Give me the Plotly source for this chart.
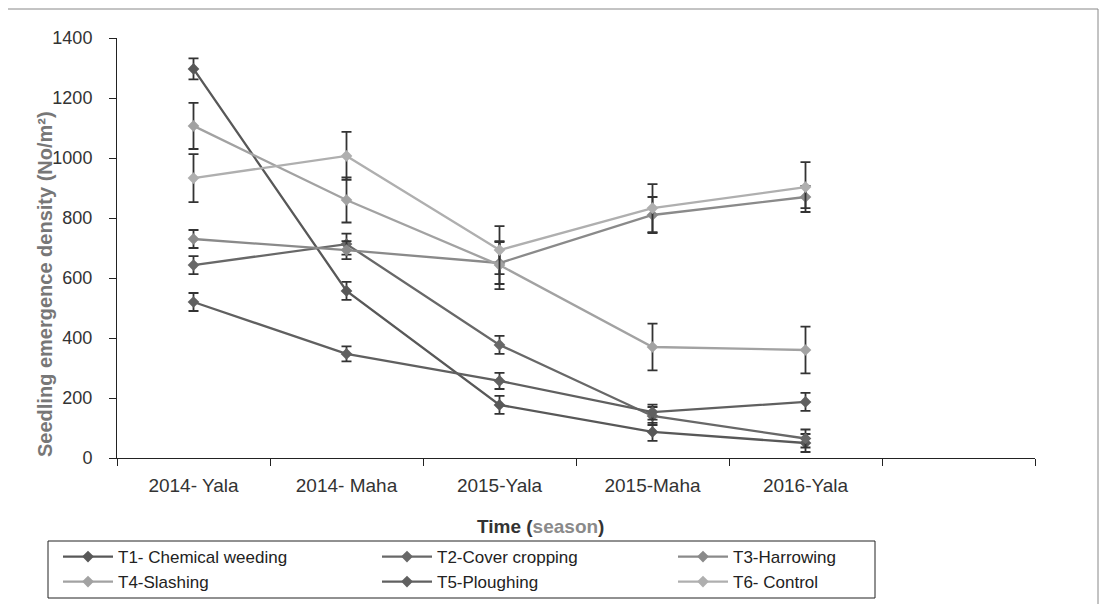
import plotly.graph_objects as go

seasons = ["2014- Yala", "2014- Maha", "2015-Yala", "2015-Maha", "2016-Yala"]
all_slots = seasons + [" "]

names = ["T1- Chemical weeding", "T2-Cover cropping", "T3-Harrowing",
         "T4-Slashing", "T5-Ploughing", "T6- Control"]

t1 = [1297, 557, 177, 87, 50]
t2 = [643, 713, 377, 140, 65]
t3 = [730, 693, 650, 810, 870]
t4 = [1107, 860, 643, 370, 360]
t5 = [520, 347, 257, 153, 187]
t6 = [933, 1007, 693, 833, 903]

e1 = [35, 30, 30, 30, 30]
e2 = [30, 35, 30, 30, 30]
e3 = [30, 30, 70, 60, 37]
e4 = [77, 75, 80, 78, 78]
e5 = [30, 25, 27, 25, 30]
e6 = [80, 80, 80, 80, 83]

values = [t1, t2, t3, t4, t5, t6]
errors = [e1, e2, e3, e4, e5, e6]
colors = ["#585858", "#686868", "#8a8a8a", "#a2a2a2", "#606060", "#afafaf"]
legend_ids = ["legend", "legend", "legend", "legend2", "legend2", "legend2"]
legend_widths = [254, 231, 200, 254, 231, 200]

# page geometry (the page body adds an 8px offset)
OFF = 8
W, H = 1107 - 2 * OFF, 612 - 2 * OFF
L, R, T, B = 117 - OFF, 1035 - OFF, 38 - OFF, 458 - OFF
pw, ph = R - L, B - T

def fx(p):
    return (p - OFF - L) / pw

def fy(p):
    return (B - (p - OFF)) / ph

fig = go.Figure()
for name, v, e, c, lg, lw in zip(names, values, errors, colors, legend_ids, legend_widths):
    fig.add_trace(go.Scatter(
        x=seasons, y=v, name=name, mode="lines+markers",
        line=dict(color=c, width=2.3),
        marker=dict(symbol="diamond", size=9, color=c),
        error_y=dict(type="data", array=e, visible=True, color="#333333",
                     thickness=1.8, width=5),
        legend=lg, legendwidth=lw,
    ))

font_family = "Liberation Sans, Arial, sans-serif"

legend_common = dict(
    orientation="h", xanchor="left", yanchor="middle",
    itemwidth=50, font=dict(size=17, color="#222222"),
    bgcolor="rgba(0,0,0,0)", borderwidth=0,
)

fig.update_layout(
    width=W, height=H,
    margin=dict(l=L, r=W - R, t=T, b=H - B, autoexpand=False),
    paper_bgcolor="white", plot_bgcolor="white",
    font=dict(family=font_family, color="#333333", size=17),
    showlegend=True,
    legend=dict(x=fx(58), y=fy(557), **legend_common),
    legend2=dict(x=fx(58), y=fy(582), **legend_common),
    xaxis=dict(
        type="category", categoryorder="array", categoryarray=all_slots,
        range=[-0.5, 5.5], tickson="boundaries", ticks="outside", ticklen=7,
        tickcolor="#222222", showline=True, linecolor="#222222", linewidth=1,
        showgrid=False, zeroline=False, ticklabelstandoff=10,
        tickfont=dict(size=19, color="#333333"),
    ),
    yaxis=dict(
        range=[0, 1400], dtick=200, ticks="outside", ticklen=7, tickcolor="#222222",
        showline=True, linecolor="#222222", linewidth=1, showgrid=False, zeroline=False,
        ticklabelstandoff=13,
        tickfont=dict(size=18, color="#333333"),
    ),
    annotations=[
        dict(text="Seedling emergence density (No/m²)", textangle=-90,
             xref="paper", yref="paper", x=fx(45), y=fy(284),
             xanchor="center", yanchor="middle", showarrow=False,
             font=dict(size=20, color="#777777", weight="bold")),
        dict(text="Time (<span style='color:#8a8a8a'>season</span>)",
             xref="paper", yref="paper", x=fx(540), y=fy(526),
             xanchor="center", yanchor="middle", showarrow=False,
             font=dict(size=19, color="#333333", weight="bold")),
    ],
    shapes=[
        dict(type="rect", xref="paper", yref="paper",
             x0=fx(7), x1=fx(1098), y0=fy(9), y1=fy(606),
             line=dict(color="#888888", width=1)),
        dict(type="rect", xref="paper", yref="paper",
             x0=fx(48), x1=fx(875), y0=fy(541), y1=fy(598),
             line=dict(color="#222222", width=1)),
    ],
)

fig.write_html("out.html")
